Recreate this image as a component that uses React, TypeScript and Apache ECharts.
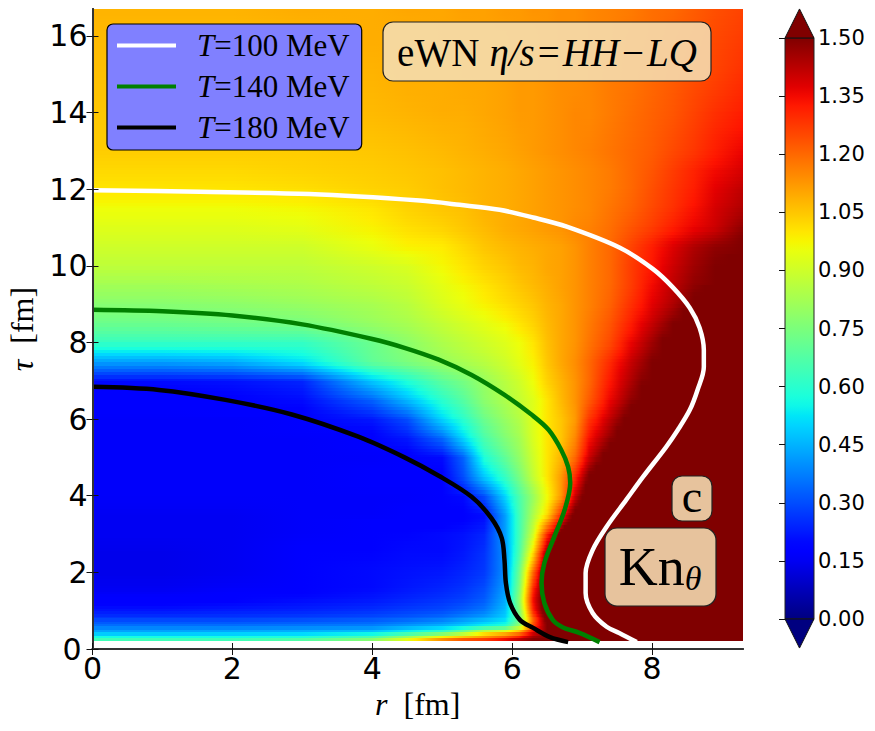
import React, { useEffect, useRef } from "react";
import * as echarts from "echarts";

// Kn_theta at each (r, tau) grid node. Nodes inside the dark-red wedge
// lie above the colour limit and are clamped on display.
const R = [0, 1, 2, 3, 4, 4.5, 5, 5.3, 5.6, 5.9, 6.1, 6.3, 6.5, 6.7, 6.9, 7.1, 7.4, 7.7, 8, 8.3, 8.6, 8.9, 9.3];
const TAU = [0.2, 0.3, 0.45, 0.6, 0.8, 1, 1.3, 1.6, 2, 2.5, 3, 3.5, 4, 4.5, 5, 5.5, 6, 6.5, 7, 7.5, 8, 8.5, 9, 9.5, 10, 10.5, 11, 11.5, 12, 12.5, 13, 14, 15, 16, 16.7];
const KN_ROWS = [
  [.68,.68,.68,.72,.82,1.00,1.20,1.32,1.36,1.42,1.46,1.5,1.5,1.5,1.5,1.5,1.5,1.5,1.5,1.5,1.5,1.5,1.5],
  [.60,.60,.60,.62,.72,.88,1.08,1.14,1.18,1.28,1.38,1.48,1.5,1.5,1.5,1.5,1.5,1.5,1.5,1.5,1.5,1.5,1.5],
  [.45,.45,.46,.47,.50,.58,.66,.78,.96,1.04,1.14,1.38,1.5,1.5,1.5,1.5,1.5,1.5,1.5,1.5,1.5,1.5,1.5],
  [.36,.36,.36,.37,.38,.42,.46,.50,.56,.60,.80,1.25,1.5,1.5,1.5,1.5,1.5,1.5,1.5,1.5,1.5,1.5,1.5],
  [.28,.28,.28,.29,.31,.33,.36,.40,.44,.50,.72,1.20,1.55,1.6,1.6,1.6,1.6,1.6,1.6,1.6,1.6,1.6,1.6],
  [.22,.22,.23,.24,.26,.28,.30,.33,.37,.47,.74,1.30,1.6,1.6,1.6,1.6,1.6,1.6,1.6,1.6,1.6,1.6,1.6],
  [.17,.17,.18,.20,.22,.24,.26,.28,.32,.44,.78,1.35,1.6,1.6,1.6,1.6,1.6,1.6,1.6,1.6,1.6,1.6,1.6],
  [.15,.15,.16,.18,.20,.22,.24,.26,.30,.42,.75,1.30,1.6,1.6,1.6,1.6,1.6,1.6,1.6,1.6,1.6,1.6,1.6],
  [.14,.14,.15,.17,.20,.21,.22,.24,.27,.40,.72,1.20,1.6,1.7,1.7,1.7,1.7,1.7,1.7,1.7,1.7,1.7,1.7],
  [.14,.14,.15,.17,.19,.20,.20,.22,.26,.40,.66,1.02,1.5,1.65,1.7,1.7,1.7,1.7,1.7,1.7,1.7,1.7,1.7],
  [.15,.15,.15,.16,.18,.19,.20,.21,.24,.42,.64,.90,1.30,1.56,1.7,1.7,1.7,1.7,1.7,1.7,1.7,1.7,1.7],
  [.15,.15,.15,.16,.16,.17,.17,.18,.20,.42,.64,.84,1.02,1.30,1.55,1.7,1.7,1.7,1.7,1.7,1.7,1.7,1.7],
  [.16,.16,.16,.16,.16,.16,.17,.20,.30,.50,.66,.80,.96,1.12,1.40,1.6,1.7,1.7,1.7,1.7,1.7,1.7,1.7],
  [.16,.16,.16,.16,.17,.17,.18,.30,.48,.62,.74,.88,1.00,1.12,1.30,1.52,1.66,1.7,1.7,1.7,1.7,1.7,1.7],
  [.16,.16,.16,.16,.16,.17,.20,.33,.58,.70,.79,.90,1.00,1.08,1.20,1.40,1.58,1.7,1.7,1.7,1.7,1.7,1.7],
  [.16,.16,.16,.16,.17,.22,.34,.50,.66,.76,.82,.92,1.00,1.05,1.15,1.34,1.48,1.63,1.7,1.7,1.7,1.7,1.7],
  [.16,.16,.16,.17,.22,.30,.50,.60,.72,.80,.85,.93,1.00,1.05,1.12,1.28,1.42,1.55,1.7,1.7,1.7,1.7,1.7],
  [.17,.17,.18,.20,.33,.46,.60,.68,.78,.84,.88,.93,1.00,1.07,1.13,1.22,1.36,1.48,1.60,1.7,1.7,1.7,1.7],
  [.20,.20,.21,.24,.48,.58,.69,.74,.80,.86,.90,.96,1.03,1.08,1.13,1.20,1.33,1.44,1.54,1.65,1.7,1.7,1.7],
  [.42,.42,.44,.52,.70,.75,.80,.83,.86,.90,.94,.98,1.05,1.10,1.14,1.20,1.30,1.41,1.50,1.60,1.7,1.7,1.7],
  [.62,.62,.62,.62,.72,.78,.84,.87,.90,.93,.96,1.00,1.06,1.10,1.13,1.18,1.25,1.36,1.46,1.56,1.7,1.7,1.7],
  [.72,.72,.73,.74,.80,.83,.88,.91,.94,.97,1.00,1.03,1.07,1.10,1.13,1.17,1.23,1.32,1.41,1.50,1.60,1.7,1.7],
  [.77,.77,.78,.80,.83,.86,.92,.95,.98,1.01,1.03,1.05,1.08,1.10,1.13,1.16,1.21,1.29,1.37,1.44,1.52,1.6,1.7],
  [.82,.82,.83,.84,.87,.89,.94,.97,1.00,1.03,1.05,1.07,1.09,1.11,1.13,1.16,1.20,1.27,1.35,1.42,1.48,1.54,1.68],
  [.87,.87,.87,.87,.90,.92,.97,1.00,1.03,1.05,1.07,1.08,1.10,1.11,1.13,1.16,1.20,1.27,1.33,1.40,1.46,1.50,1.60],
  [.90,.90,.90,.90,.95,.98,.99,1.02,1.05,1.07,1.08,1.09,1.10,1.11,1.13,1.16,1.20,1.26,1.32,1.38,1.44,1.48,1.52],
  [.93,.93,.93,.94,.98,1.01,1.03,1.05,1.07,1.09,1.10,1.11,1.12,1.13,1.15,1.16,1.19,1.23,1.27,1.32,1.36,1.40,1.48],
  [.96,.96,.96,.97,1.00,1.03,1.05,1.06,1.08,1.09,1.10,1.11,1.12,1.13,1.14,1.15,1.18,1.21,1.25,1.29,1.34,1.39,1.44],
  [1.00,1.00,1.00,1.01,1.03,1.04,1.06,1.07,1.08,1.09,1.10,1.11,1.12,1.13,1.14,1.15,1.17,1.20,1.24,1.28,1.32,1.37,1.42],
  [1.02,1.02,1.02,1.03,1.04,1.05,1.06,1.07,1.08,1.09,1.10,1.11,1.12,1.13,1.14,1.15,1.17,1.20,1.23,1.27,1.31,1.35,1.39],
  [1.04,1.04,1.04,1.04,1.05,1.06,1.07,1.08,1.09,1.10,1.11,1.12,1.13,1.14,1.15,1.16,1.18,1.20,1.22,1.25,1.28,1.32,1.36],
  [1.05,1.05,1.05,1.06,1.07,1.08,1.09,1.09,1.10,1.11,1.12,1.12,1.13,1.14,1.15,1.15,1.17,1.19,1.21,1.23,1.26,1.29,1.32],
  [1.06,1.06,1.06,1.07,1.08,1.09,1.09,1.10,1.10,1.11,1.12,1.12,1.13,1.14,1.14,1.15,1.17,1.18,1.20,1.22,1.24,1.26,1.29],
  [1.07,1.07,1.07,1.08,1.09,1.09,1.10,1.10,1.11,1.11,1.12,1.12,1.13,1.14,1.14,1.15,1.16,1.18,1.19,1.21,1.23,1.25,1.27],
  [1.08,1.08,1.08,1.09,1.09,1.10,1.10,1.11,1.11,1.12,1.12,1.13,1.13,1.14,1.14,1.15,1.16,1.17,1.19,1.20,1.22,1.24,1.26],
];

const T100_NAME = "T=100 MeV";
const T100_R = [0, 1.54, 3.1, 4.68, 5.25, 5.82, 6.3, 6.78, 7.54, 8.01, 8.29, 8.54, 8.68, 8.74, 8.74, 8.65, 8.54, 8.37, 8.2, 7.87, 7.63, 7.35, 7.15, 7.05, 7.05, 7.15, 7.35, 7.53, 7.78];
const T100_TAU = [11.97, 11.93, 11.87, 11.7, 11.59, 11.46, 11.26, 11.02, 10.47, 9.92, 9.45, 8.9, 8.38, 7.8, 7.36, 6.76, 6.24, 5.72, 5.27, 4.49, 3.89, 3.19, 2.58, 1.98, 1.46, 0.94, 0.58, 0.42, 0.18];
const T140_NAME = "T=140 MeV";
const T140_R = [0, 1, 2, 3, 4, 4.46, 4.95, 5.42, 5.89, 6.28, 6.52, 6.7, 6.8, 6.83, 6.75, 6.6, 6.46, 6.42, 6.46, 6.58, 6.72, 6.96, 7.25];
const T140_TAU = [8.85, 8.81, 8.7, 8.47, 8.09, 7.86, 7.55, 7.15, 6.63, 6.11, 5.72, 5.2, 4.75, 4.33, 3.63, 2.92, 2.24, 1.72, 1.2, 0.76, 0.57, 0.42, 0.18];
const T180_NAME = "T=180 MeV";
const T180_R = [0, 0.95, 1.9, 2.85, 3.8, 4.46, 4.95, 5.42, 5.7, 5.85, 5.89, 5.91, 5.97, 6.11, 6.3, 6.54, 6.8];
const T180_TAU = [6.84, 6.76, 6.5, 6.12, 5.54, 5, 4.52, 3.97, 3.42, 2.9, 2.32, 1.72, 1.2, 0.76, 0.55, 0.31, 0.18];

const X_TICKS = [0, 2, 4, 6, 8];
const Y_TICKS = [0, 2, 4, 6, 8, 10, 12, 14, 16];
const X_MAX = 9.3;
const Y_MAX = 16.7;
const KN_MAX = 1.5;
const KN_TICK_STEP = 0.15;
const COLORBAR_RANGE = [0, KN_MAX];

const SERIF = '"Liberation Serif", "DejaVu Serif", serif';
const SANS = '"DejaVu Sans", sans-serif';

const RED_STOPS = [[0, 0], [0.35, 0], [0.66, 1], [0.89, 1], [1, 0.5]];
const GREEN_STOPS = [[0, 0], [0.125, 0], [0.375, 1], [0.64, 1], [0.91, 0], [1, 0]];
const BLUE_STOPS = [[0, 0.5], [0.11, 1], [0.34, 1], [0.65, 0], [1, 0]];

function piece(stops: number[][], t: number) {
  for (let i = 1; i < stops.length; i++) {
    if (t <= stops[i][0]) {
      const a = stops[i - 1];
      const b = stops[i];
      return a[1] + ((t - a[0]) / (b[0] - a[0])) * (b[1] - a[1]);
    }
  }
  return stops[stops.length - 1][1];
}
function jet(v: number) {
  const t = Math.max(0, Math.min(1, v / KN_MAX));
  const c = (s: number[][]) => Math.round(255 * piece(s, t));
  return `rgb(${c(RED_STOPS)},${c(GREEN_STOPS)},${c(BLUE_STOPS)})`;
}

function zip(a: number[], b: number[]) {
  return a.map((v, i) => [v, b[i]]);
}

function gradientFor(vals: number[]) {
  const stops: { offset: number; color: string }[] = [];
  for (let i = 0; i < vals.length; i++) {
    stops.push({ offset: R[i] / X_MAX, color: jet(vals[i]) });
    if (i + 1 < vals.length) {
      const a = Math.min(vals[i], KN_MAX + 0.01);
      const b = Math.min(vals[i + 1], KN_MAX + 0.01);
      const n = Math.ceil(Math.abs(vals[i + 1] - vals[i]) / 0.06);
      if (a === b) continue;
      for (let k = 1; k < n; k++) {
        const f = k / n;
        stops.push({
          offset: (R[i] + f * (R[i + 1] - R[i])) / X_MAX,
          color: jet(vals[i] + f * (vals[i + 1] - vals[i])),
        });
      }
    }
  }
  return { type: "linear", x: 0, y: 0, x2: 1, y2: 0, colorStops: stops };
}

// Bilinear shading between the read nodes, as imshow would do; the data stays the read rows.
function renderHeatRow(params: any, api: any) {
  const j = params.dataIndex;
  if (j >= TAU.length - 1) return { type: "group", children: [] };
  const x0 = api.coord([0, TAU[j]])[0];
  const x1 = api.coord([X_MAX, TAU[j]])[0];
  const y0 = api.coord([0, TAU[j]])[1];
  const y1 = api.coord([0, TAU[j + 1]])[1];
  const n = Math.max(1, Math.round((y0 - y1) / 3));
  const children: any[] = [];
  const lo = KN_ROWS[j];
  const hi = KN_ROWS[j + 1];
  for (let k = 0; k < n; k++) {
    const f = (k + 0.5) / n;
    const bottom = Math.round(y0 + ((y1 - y0) * k) / n);
    const top = Math.round(y0 + ((y1 - y0) * (k + 1)) / n);
    children.push({
      type: "rect",
      shape: { x: x0, y: top, width: x1 - x0, height: bottom - top + (k === 0 ? 0 : 1) },
      style: { fill: gradientFor(lo.map((v, i) => v + f * (hi[i] - v))) },
    });
  }
  return { type: "group", children };
}

function renderColorbar(_params: any, api: any) {
  const [lo, hi] = COLORBAR_RANGE;
  const [xl, yb] = api.coord([0, lo]);
  const [xr, yt] = api.coord([1, hi]);
  const xm = (xl + xr) / 2;
  const apex = (yb - yt) * 0.05;
  const stops: { offset: number; color: string }[] = [];
  for (let i = 0; i <= 60; i++) stops.push({ offset: i / 60, color: jet(hi - ((hi - lo) * i) / 60) });
  return {
    type: "group",
    children: [
      {
        type: "rect",
        shape: { x: xl, y: yt, width: xr - xl, height: yb - yt },
        style: { fill: { type: "linear", x: 0, y: 0, x2: 0, y2: 1, colorStops: stops }, stroke: "#222", lineWidth: 1 },
      },
      {
        type: "polygon",
        shape: { points: [[xl, yt], [xm, yt - apex], [xr, yt]] },
        style: { fill: jet(hi), stroke: "#111", lineWidth: 1 },
      },
      {
        type: "polygon",
        shape: { points: [[xl, yb], [xm, yb + apex], [xr, yb]] },
        style: { fill: jet(lo), stroke: "#111", lineWidth: 1 },
      },
    ],
  };
}

const inTick = { show: true, inside: true, length: 6, lineStyle: { color: "#111", width: 1 } };
const frame = { show: true, lineStyle: { color: "#333", width: 2 } };

function curve(name: string, color: string, r: number[], tau: number[]) {
  return {
    type: "line",
    name,
    xAxisIndex: 0,
    yAxisIndex: 0,
    data: zip(r, tau),
    showSymbol: false,
    symbol: "none",
    smooth: 0.33,
    z: 5,
    lineStyle: { color, width: 4.5 },
    itemStyle: { color },
  };
}

const boxStyle = { fill: "rgba(245,222,179,0.88)", stroke: "#222", lineWidth: 1.2 };

export default function App() {
  const ref = useRef<HTMLDivElement>(null);
  useEffect(() => {
    const chart = echarts.init(ref.current!, null, { renderer: "svg" });
    chart.setOption({
      animation: false,
      backgroundColor: "#fff",
      grid: [
        { left: 92.5, top: 9, width: 650.5, height: 640, show: false, outerBoundsMode: "none" },
        { left: 785, top: 38, width: 29, height: 581, show: false, outerBoundsMode: "none" },
      ],
      xAxis: [
        {
          gridIndex: 0, type: "value", min: 0, max: X_MAX, position: "bottom", z: 10,
          splitLine: { show: false }, axisLine: frame,
          axisTick: { ...inTick, customValues: X_TICKS },
          axisLabel: { customValues: X_TICKS, fontFamily: SANS, fontSize: 30, color: "#000", margin: 4 },
          name: "{i|r}{n|  [fm]}", nameLocation: "middle", nameGap: 36,
          nameTextStyle: {
            rich: {
              i: { fontFamily: SERIF, fontStyle: "italic", fontSize: 32, color: "#000" },
              n: { fontFamily: SERIF, fontSize: 32, color: "#000" },
            },
          },
        },
        {
          gridIndex: 0, type: "value", min: 0, max: X_MAX, position: "top", z: 10,
          splitLine: { show: false }, axisLine: frame,
          axisTick: { ...inTick, customValues: X_TICKS }, axisLabel: { show: false },
        },
        { gridIndex: 1, type: "value", min: 0, max: 1, show: false },
      ],
      yAxis: [
        {
          gridIndex: 0, type: "value", min: 0, max: Y_MAX, position: "left", z: 10,
          splitLine: { show: false }, axisLine: frame,
          axisTick: { ...inTick, customValues: Y_TICKS },
          axisLabel: {
            customValues: Y_TICKS, fontFamily: SANS, fontSize: 30, color: "#000", margin: 5,
            formatter: (v: number) => (v === 0 ? "{z|0}" : String(v)),
            rich: { z: { fontFamily: SANS, fontSize: 30, color: "#000", padding: [0, 6, 0, 0] } },
          },
          name: "{i|τ}{n|  [fm]}", nameLocation: "middle", nameGap: 52, nameRotate: 90,
          nameTextStyle: {
            rich: {
              i: { fontFamily: SERIF, fontStyle: "italic", fontSize: 32, color: "#000" },
              n: { fontFamily: SERIF, fontSize: 32, color: "#000" },
            },
          },
        },
        {
          gridIndex: 0, type: "value", min: 0, max: Y_MAX, position: "right", z: 10,
          splitLine: { show: false }, axisLine: frame,
          axisTick: { ...inTick, customValues: Y_TICKS }, axisLabel: { show: false },
        },
        {
          gridIndex: 1, type: "value", min: 0, max: KN_MAX, interval: KN_TICK_STEP, position: "right", z: 10,
          splitLine: { show: false }, axisLine: { show: false },
          axisTick: { show: true, inside: true, length: 6, lineStyle: { color: "#111", width: 1 } },
          axisLabel: {
            fontFamily: SANS, fontSize: 21, color: "#000", margin: 4,
            formatter: (v: number) => v.toFixed(2),
          },
        },
      ],
      legend: {
        left: 107, top: 24, orient: "vertical", icon: "rect", itemWidth: 59, itemHeight: 4, itemGap: 10,
        padding: [6, 12, 7, 10],
        backgroundColor: "#8080ff", borderColor: "#000", borderWidth: 1.2, borderRadius: 6,
        data: [T100_NAME, T140_NAME, T180_NAME],
        formatter: (name: string) => `{i|${name.slice(0, 1)}}{n|${name.slice(1)}}`,
        textStyle: {
          rich: {
            i: { fontFamily: SERIF, fontStyle: "italic", fontSize: 31, color: "#000", padding: [0, 0, 0, 16] },
            n: { fontFamily: SERIF, fontSize: 31, color: "#000" },
          },
        },
      },
      series: [
        {
          type: "custom",
          name: "Kn",
          xAxisIndex: 0, yAxisIndex: 0, z: 1, clip: true, silent: true,
          renderItem: renderHeatRow,
          encode: { x: 1, y: 0 },
          data: KN_ROWS.map((row, j) => [TAU[j], ...row]),
        },
        {
          type: "custom",
          name: "colorbar",
          xAxisIndex: 2, yAxisIndex: 2, z: 1, clip: false, silent: true,
          renderItem: renderColorbar,
          data: [[0, COLORBAR_RANGE[0]]],
        },
        curve(T100_NAME, "#ffffff", T100_R, T100_TAU),
        curve(T140_NAME, "#008000", T140_R, T140_TAU),
        curve(T180_NAME, "#000000", T180_R, T180_TAU),
      ],
      graphic: [
        { type: "rect", z: 20, shape: { x: 383, y: 22, width: 328, height: 59, r: 10 }, style: boxStyle },
        {
          type: "text", z: 21, x: 547, y: 52,
          style: {
            text: "{n|eWN}   {i|η/s}{e|=}{i|HH}{e|−}{i|LQ}",
            align: "center", verticalAlign: "middle",
            rich: {
              n: { fontFamily: SERIF, fontSize: 39, fill: "#000" },
              i: { fontFamily: SERIF, fontStyle: "italic", fontSize: 39, fill: "#000" },
              e: { fontFamily: SERIF, fontSize: 39, fill: "#000", padding: [0, 3, 0, 3] },
            },
          },
        },
        { type: "rect", z: 20, shape: { x: 672, y: 476, width: 40, height: 45, r: 10 }, style: boxStyle },
        {
          type: "text", z: 21, x: 692, y: 496,
          style: { text: "c", align: "center", verticalAlign: "middle", fontFamily: SERIF, fontSize: 46, fill: "#000" },
        },
        { type: "rect", z: 20, shape: { x: 605, y: 528, width: 111, height: 78, r: 12 }, style: boxStyle },
        {
          type: "text", z: 21, x: 660, y: 567,
          style: {
            text: "{n|Kn}{s|θ}",
            align: "center", verticalAlign: "middle",
            rich: {
              n: { fontFamily: SERIF, fontSize: 54, fill: "#000" },
              s: { fontFamily: SERIF, fontStyle: "italic", fontSize: 34, fill: "#000", verticalAlign: "bottom", padding: [22, 0, 0, 0] },
            },
          },
        },
      ],
    });
    return () => chart.dispose();
  }, []);
  return <div ref={ref} style={{ position: "absolute", left: 0, top: 0, width: 875, height: 731 }} />;
}
